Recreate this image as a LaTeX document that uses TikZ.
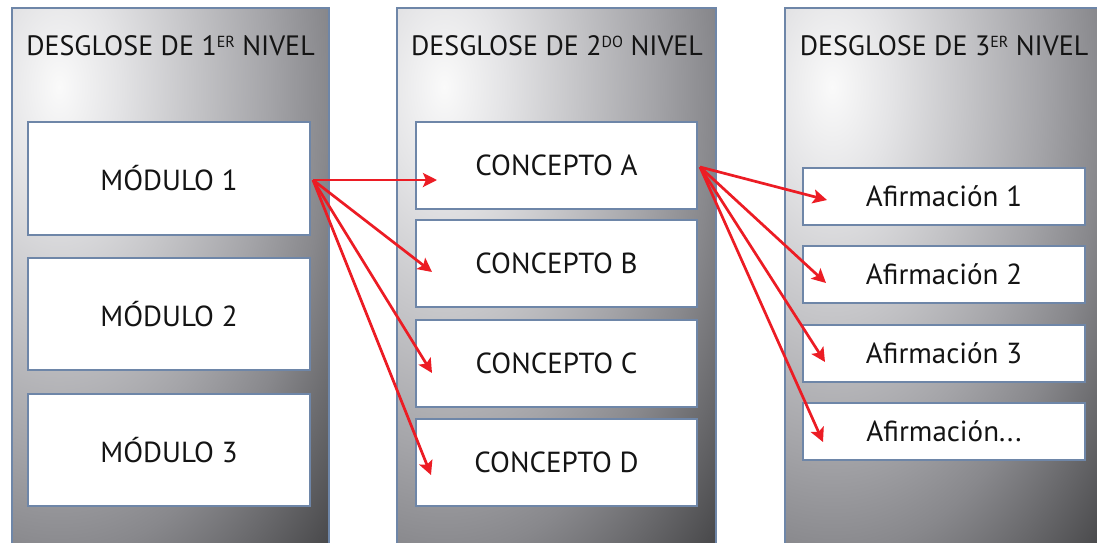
\documentclass[tikz,border=0pt]{standalone}
\usepackage{fontspec}
\setmainfont{PT Sans}
\usetikzlibrary{arrows.meta,calc}

\definecolor{frame}{HTML}{6E86A8}
\definecolor{arrowred}{HTML}{EC1C24}
\definecolor{g0}{HTML}{FAFAFA}
\definecolor{g1}{HTML}{E4E4E6}
\definecolor{g2}{HTML}{C4C4C7}
\definecolor{g3}{HTML}{A4A4A8}
\definecolor{g4}{HTML}{88888C}
\definecolor{g5}{HTML}{4A4A4C}

% light spot fading to dark grey towards the lower right
\pgfdeclareradialshading{colshade}{\pgfpoint{0bp}{0bp}}{%
  color(0bp)=(g0); color(3.8bp)=(g1); color(8.7bp)=(g2);
  color(13.5bp)=(g3); color(17.3bp)=(g4); color(24bp)=(g5); color(50bp)=(g5)}

\newcommand{\ordsup}[1]{\raisebox{8pt}{\fontsize{16}{16}\selectfont #1}}

\tikzset{
  txt/.style={font=\fontsize{29}{31}\selectfont, text=black!92},
  boxnode/.style={txt, draw=frame, line width=2pt, fill=white,
    inner sep=0pt, anchor=center},
  modbox/.style={boxnode, minimum width=282pt, minimum height=112pt},
  conbox/.style={boxnode, minimum width=281pt, minimum height=87pt},
  afbox/.style={boxnode, minimum width=282pt, minimum height=57pt},
  header/.style={font=\fontsize{28}{30}\selectfont, text=black!92,
    anchor=base, inner sep=0pt},
  conn/.style={draw=arrowred, line width=2.7pt,
    -{Stealth[length=14pt,width=14pt,inset=3pt]}},
}

\begin{document}
\begin{tikzpicture}[x=1pt,y=-1pt]
\useasboundingbox (0,0) rectangle (1097,542);
\clip (0,0) rectangle (1097,542);

% grey columns
\foreach \l/\r in {12/329, 397/716, 785/1102}{
  \begin{scope}
    \clip (\l,8) rectangle (\r,570);
    \shade[shading=colshade] (\l+47,87) ellipse (390 and 676);
  \end{scope}
  \draw[frame, line width=2pt] (\l,570) -- (\l,8) -- (\r,8) -- (\r,570);
}

% column titles
\node[header] (h1) at (170.5,55) {DESGLOSE DE 1\ordsup{ER} NIVEL};
\node[header] (h2) at (557,55) {DESGLOSE DE 2\ordsup{DO} NIVEL};
\node[header] (h3) at (944,55) {DESGLOSE DE 3\ordsup{ER} NIVEL};

% first level
\node[modbox, minimum height=113pt] (m1) at (169,178.5) {MÓDULO 1};
\node[modbox] (m2) at (169,314) {MÓDULO 2};
\node[modbox] (m3) at (169,450) {MÓDULO 3};

% second level
\node[conbox] (ca) at (556.5,165.5) {CONCEPTO A};
\node[conbox] (cb) at (556.5,263.5) {CONCEPTO B};
\node[conbox] (cc) at (556.5,363.5) {CONCEPTO C};
\node[conbox] (cd) at (556.5,462.5) {CONCEPTO D};

% third level
\node[afbox] (a1) at (944,196) {Afirmación 1};
\node[afbox] (a2) at (944,274.5) {Afirmación 2};
\node[afbox] (a3) at (944,353.5) {Afirmación 3};
\node[afbox] (a4) at (944,431.5) {Afirmación...};

% arrow tips
\coordinate (ta) at (437,180);
\coordinate (tb) at (432,272);
\coordinate (tc) at (432,373);
\coordinate (td) at (431,475);
\coordinate (t1) at (827,200);
\coordinate (t2) at (826,283);
\coordinate (t3) at (825,362);
\coordinate (t4) at (823,442);

\coordinate (s1) at ($(m1.east)+(2,1.5)$);
\coordinate (s2) at ($(ca.east)+(2,1.5)$);

\foreach \t in {ta,tb,tc,td}{\draw[conn] (s1) -- (\t);}
\foreach \t in {t1,t2,t3,t4}{\draw[conn] (s2) -- (\t);}
\end{tikzpicture}
\end{document}
